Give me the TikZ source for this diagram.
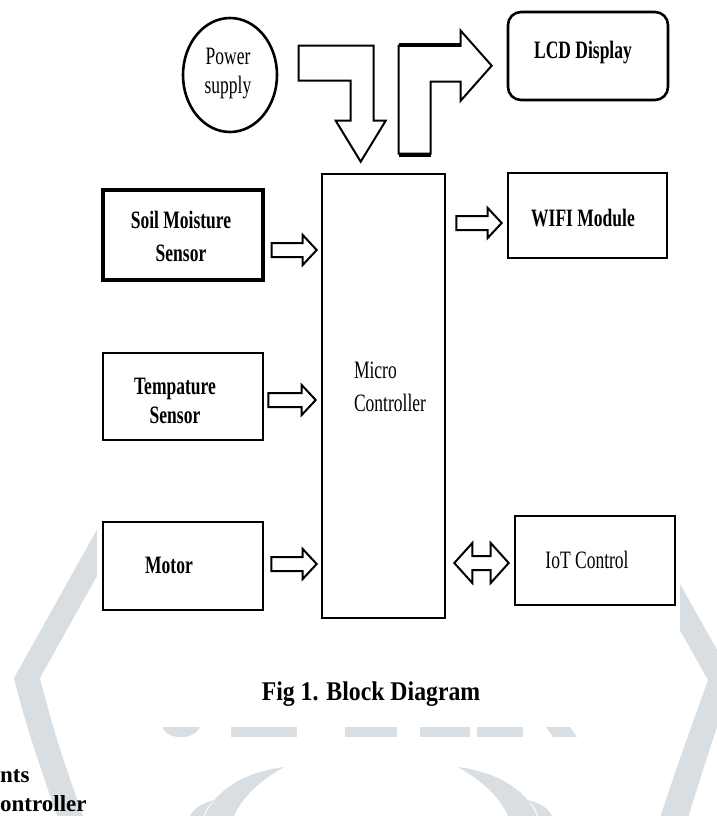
\documentclass[tikz,border=0pt]{standalone}
\usepackage{fontspec}
\setmainfont{Liberation Serif}[FakeStretch=0.7]
\newfontfamily\capfont{Liberation Serif}[FakeStretch=0.88]
\newfontfamily\plainfont{Liberation Serif}
\usetikzlibrary{calc,shapes.geometric}
\definecolor{wm}{RGB}{217,222,226}
\tikzset{
  box/.style={draw, fill=white, line width=2.6pt, inner sep=0pt},
  btxt/.style={font=\bfseries\fontsize{25}{31}\selectfont, align=center, inner sep=0pt},
  rtxt/.style={font=\fontsize{25}{31}\selectfont, align=center, inner sep=0pt},
  barrow/.style={draw, fill=white, line width=2pt, line join=miter},
}
\newcommand\harrow[2]{%
  \draw[barrow] let \p1=#1, \p2=#2 in
    (\x1,\y1+7pt) -- (\x2-14pt,\y1+7pt) -- (\x2-14pt,\y1+15pt) -- (\x2,\y1)
    -- (\x2-14pt,\y1-15pt) -- (\x2-14pt,\y1-7pt) -- (\x1,\y1-7pt) -- cycle;}
\newcommand\dblarrow[2]{%
  \draw[barrow] let \p1=#1, \p2=#2 in
    (\x1,\y1) -- (\x1+18pt,\y1+20pt) -- (\x1+18pt,\y1+7pt) -- (\x2-18pt,\y1+7pt)
    -- (\x2-18pt,\y1+20pt) -- (\x2,\y1) -- (\x2-18pt,\y1-20pt) -- (\x2-18pt,\y1-7pt)
    -- (\x1+18pt,\y1-7pt) -- (\x1+18pt,\y1-20pt) -- cycle;}
\begin{document}
\begin{tikzpicture}[x=1pt,y=-1pt]
\useasboundingbox (0,0) rectangle (717,816);
% ---- watermark ----
\fill[wm] (147,440) -- (14,678) .. controls (28,735) and (45,780) .. (62,830)
  -- (88,830) .. controls (70,780) and (54,735) .. (40,678) -- (173,440) -- cycle;
\fill[wm] (599,440) -- (734,680) .. controls (715,730) and (700,780) .. (684,830)
  -- (656,830) .. controls (672,780) and (690,730) .. (708,680) -- (573,440) -- cycle;
\fill[wm] (163,727) -- (199,727) -- (199,729) .. controls (192,740) and (170,740) .. (163,729) -- cycle;
\fill[wm] (231,727) rectangle (297,737);
\fill[wm] (345,727) rectangle (397,737);
\fill[wm] (420,727) rectangle (470,737);
\fill[wm] (477,727) rectangle (523,737);
\fill[wm] (546,727) -- (570,727) -- (577,737) -- (553,737) -- cycle;
\fill[white] (97,0) rectangle (680,727);
% laurel
\fill[wm] (205,816) .. controls (215,790) and (245,772) .. (284,767)
  .. controls (258,782) and (242,798) .. (234,816) -- cycle;
\fill[wm] (190,816) .. controls (194,808) and (202,803) .. (214,800)
  .. controls (208,806) and (205,811) .. (204,816) -- cycle;
\fill[wm] (537,816) .. controls (527,790) and (497,772) .. (458,767)
  .. controls (484,782) and (500,798) .. (508,816) -- cycle;
\fill[wm] (552,816) .. controls (548,808) and (540,803) .. (528,800)
  .. controls (534,806) and (537,811) .. (538,816) -- cycle;
% ---- boxes ----
\node[box, ellipse, minimum width=94pt, minimum height=114pt] (power) at (230,75) {};
\node[box, rounded corners=13pt, minimum width=160pt, minimum height=88pt] (lcd) at (588,56) {};
\node[box, minimum width=123pt, minimum height=444pt] (mc) at (383.5,396) {};
\node[box, line width=3.2pt, minimum width=160pt, minimum height=90pt] (soil) at (183,235) {};
\node[box, minimum width=159pt, minimum height=85pt] (wifi) at (587.5,215.5) {};
\node[box, minimum width=160pt, minimum height=87pt] (temp) at (183,396.5) {};
\node[box, minimum width=160pt, minimum height=88pt] (motor) at (183,566) {};
\node[box, minimum width=160pt, minimum height=89pt] (iot) at (595,560.5) {};
% ---- texts ----
\node[rtxt, font=\fontsize{25}{29}\selectfont] (powert) at (228,74) {Power\\supply};
\node[btxt] (lcdt) at (583,53) {LCD Display};
\node[btxt, font=\bfseries\fontsize{25}{33}\selectfont] (soilt) at (181,236) {Soil Moisture\\Sensor};
\node[btxt] (wifit) at (583,218) {WIFI Module};
\node[btxt, font=\bfseries\fontsize{25}{29}\selectfont] (tempt) at (175,401) {Tempature\\Sensor};
\node[rtxt, align=left, font=\fontsize{25}{33}\selectfont] (mct) at (390,387) {Micro\\Controller};
\node[btxt] (motort) at (169,565) {Motor};
\node[rtxt] (iott) at (587,560) {IoT Control};
% ---- connectors ----
\begin{scope}[shift={(mc.north west)}]
\draw[barrow] (-22,-127) -- (53,-127) -- (53,-52) -- (65,-52) -- (40,-11)
  -- (15,-52) -- (30,-52) -- (30,-92) -- (-22,-92) -- cycle;
\draw[barrow] (78,-19) -- (78,-127) -- (140,-127) -- (140,-142) -- (171,-107)
  -- (140,-72) -- (140,-91) -- (110,-91) -- (110,-19) -- cycle;
\draw[line width=4pt] (78,-128) -- (140,-128);
\draw[line width=4pt] (78,-18) -- (110,-18);
\end{scope}
\harrow{($(soil.east)+(7,15)$)}{($(mc.west)+(-4,0)$)}
\harrow{($(temp.east)+(4,3.5)$)}{($(mc.west)+(-5,0)$)}
\harrow{($(motor.east)+(7,-2)$)}{($(mc.west)+(-4,0)$)}
\harrow{($(mc.east |- wifi.west)+(10,7.5)$)}{($(wifi.west)+(-5,0)$)}
\dblarrow{($(mc.east |- iot.west)+(8,2.5)$)}{($(iot.west)+(-5,0)$)}
% ---- caption and cut text ----
\node[anchor=base, inner sep=0pt] (cap) at (371,700)
  {\capfont\bfseries\fontsize{27}{30}\selectfont Fig 1. Block Diagram};
\node[anchor=base west, inner sep=0pt] (cut1) at (0,782)
  {\plainfont\bfseries\fontsize{23}{26}\selectfont nts};
\node[anchor=base west, inner sep=0pt] (cut2) at (0,811)
  {\plainfont\bfseries\fontsize{23}{26}\selectfont ontroller};
\end{tikzpicture}
\end{document}
